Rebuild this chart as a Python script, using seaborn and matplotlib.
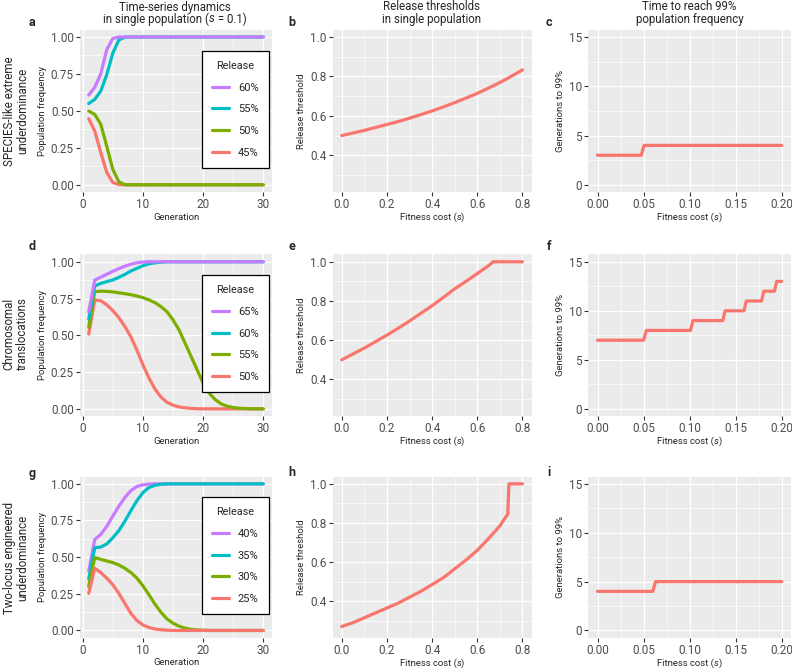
import matplotlib
matplotlib.use('Agg')
import matplotlib.pyplot as plt
import seaborn as sns
import numpy as np
import pandas as pd
from matplotlib.ticker import AutoMinorLocator, FormatStrFormatter

# ---- data ----
generations = list(range(1, 31))

# a: SPECIES-like extreme underdominance
a_releases = ['60%', '55%', '50%', '45%']
a_60 = [0.607, 0.66, 0.75, 0.915, 0.99] + [1.0] * 25
a_55 = [0.55, 0.578, 0.634, 0.746, 0.89, 0.98, 0.999] + [1.0] * 23
a_50 = [0.499, 0.476, 0.41, 0.26, 0.105, 0.02, 0.001] + [0.0] * 23
a_45 = [0.447, 0.364, 0.218, 0.083, 0.016, 0.002] + [0.0] * 24

# d: chromosomal translocations
d_releases = ['65%', '60%', '55%', '50%']
d_65 = [0.66, 0.875, 0.895, 0.915, 0.935, 0.953, 0.97, 0.983, 0.993, 0.998] + [1.0] * 20
d_60 = [0.61, 0.835, 0.853, 0.865, 0.876, 0.894, 0.914, 0.937, 0.955, 0.973,
        0.986, 0.993, 0.997] + [1.0] * 17
d_55 = [0.555, 0.797, 0.80, 0.799, 0.795, 0.789, 0.783, 0.776, 0.767, 0.756,
        0.741, 0.722, 0.695, 0.66, 0.605, 0.537, 0.447, 0.357, 0.266, 0.176,
        0.108, 0.063, 0.034, 0.018, 0.009, 0.004, 0.002] + [0.0] * 3
d_50 = [0.508, 0.74, 0.735, 0.707, 0.668, 0.62, 0.56, 0.49, 0.40, 0.30,
        0.21, 0.135, 0.08, 0.045, 0.025, 0.013, 0.007, 0.003, 0.001] + [0.0] * 11

# g: two-locus engineered underdominance
g_releases = ['40%', '35%', '30%', '25%']
g_40 = [0.406, 0.62, 0.655, 0.71, 0.78, 0.847, 0.907, 0.953, 0.982, 0.993, 0.998] + [1.0] * 19
g_35 = [0.35, 0.564, 0.569, 0.59, 0.632, 0.68, 0.745, 0.817, 0.885, 0.94,
        0.975, 0.99, 0.997] + [1.0] * 17
g_30 = [0.30, 0.497, 0.485, 0.474, 0.463, 0.447, 0.424, 0.395, 0.357, 0.305,
        0.244, 0.18, 0.124, 0.079, 0.05, 0.029, 0.016, 0.008, 0.004, 0.002] + [0.0] * 10
g_25 = [0.253, 0.424, 0.395, 0.357, 0.312, 0.253, 0.185, 0.117, 0.068, 0.038,
        0.02, 0.01, 0.005, 0.002] + [0.0] * 16

# release thresholds vs fitness cost
b_s = [0.0, 0.05, 0.1, 0.15, 0.2, 0.25, 0.3, 0.35, 0.4, 0.45, 0.5, 0.55, 0.6, 0.65, 0.7, 0.75, 0.8]
b_thr = [0.500, 0.513, 0.526, 0.541, 0.556, 0.571, 0.588, 0.606, 0.625, 0.645,
         0.667, 0.690, 0.714, 0.741, 0.769, 0.800, 0.833]
e_s = [0.0, 0.05, 0.1, 0.15, 0.2, 0.25, 0.3, 0.35, 0.4, 0.45, 0.5, 0.55, 0.6, 0.65,
       0.67, 0.7, 0.75, 0.8]
e_thr = [0.50, 0.53, 0.56, 0.593, 0.626, 0.661, 0.698, 0.737, 0.776, 0.818, 0.862,
         0.90, 0.94, 0.98, 1.0, 1.0, 1.0, 1.0]
h_s = [0.0, 0.05, 0.1, 0.15, 0.2, 0.25, 0.3, 0.35, 0.4, 0.45, 0.5, 0.55, 0.6, 0.65,
       0.7, 0.72, 0.735, 0.74, 0.75, 0.8]
h_thr = [0.27, 0.29, 0.315, 0.34, 0.365, 0.39, 0.42, 0.45, 0.485, 0.52, 0.565,
         0.61, 0.66, 0.72, 0.785, 0.82, 0.845, 1.0, 1.0, 1.0]

# generations to 99 %
c_s = [0.0, 0.0475, 0.0505, 0.2]
c_gen = [3, 3, 4, 4]
f_s = [0.0, 0.05, 0.053, 0.101, 0.1035, 0.136, 0.1385, 0.159, 0.1615, 0.178,
       0.1805, 0.192, 0.1945, 0.2]
f_gen = [7, 7, 8, 8, 9, 9, 10, 10, 11, 11, 12, 12, 13, 13]
i_s = [0.0, 0.06, 0.063, 0.2]
i_gen = [4, 4, 5, 5]

col_titles = [('Time-series dynamics', ('in single population (', 's', ' = 0.1)')),
              ('Release thresholds', ('in single population',)),
              ('Time to reach 99%', ('population frequency',))]
row_titles = ['SPECIES-like extreme\nunderdominance',
              'Chromosomal\ntranslocations',
              'Two-locus engineered\nunderdominance']
cost_label = ('Fitness cost (', 's', ')')

hue_colors = ['#C77CFF', '#00BFC4', '#7CAE00', '#F8766D']
red = '#F8766D'

# ---- style ----
sns.set_theme(style='darkgrid', rc={'axes.facecolor': '#EBEBEB', 'grid.color': 'white'})
plt.rcParams['font.family'] = ['Roboto', 'DejaVu Sans']

fig = plt.figure(figsize=(7.92, 6.7), dpi=100)
W, H = 792, 670
col_px = [(80, 272), (332.7, 531.5), (588.3, 791)]
row_px = [(29.6, 192.2), (254.4, 416.2), (476.5, 637.8)]
renderer = fig.canvas.get_renderer()


def mixed_text(cx, cy, parts, **kw):
    # pieces alternate upright / italic, centred as one line at (cx, cy) px
    texts = [fig.text(0, 1 - cy / H, p, va='center', ha='left',
                      fontstyle='italic' if k % 2 else 'normal', **kw)
             for k, p in enumerate(parts)]
    widths = [t.get_window_extent(renderer).width for t in texts]
    x = cx - sum(widths) / 2
    for t, w in zip(texts, widths):
        t.set_x(x / W)
        x += w


def make_ax(r, c):
    x0, x1 = col_px[c]
    y0, y1 = row_px[r]
    return fig.add_axes([x0 / W, 1 - y1 / H, (x1 - x0) / W, (y1 - y0) / H])


def style_ax(ax, xticks, yticks, xfmt, yfmt, xlabel, ylabel):
    ax.set_xticks(xticks)
    ax.set_yticks(yticks)
    ax.xaxis.set_major_formatter(FormatStrFormatter(xfmt))
    ax.yaxis.set_major_formatter(FormatStrFormatter(yfmt))
    ax.xaxis.set_minor_locator(AutoMinorLocator(2))
    ax.yaxis.set_minor_locator(AutoMinorLocator(2))
    ax.grid(which='major', color='white', linewidth=0.9)
    ax.grid(which='minor', color='white', linewidth=0.45)
    ax.tick_params(which='major', bottom=True, left=True, length=3, width=0.8,
                   color='#333333', labelcolor='#4D4D4D', labelsize=8.5, pad=1.5)
    ax.tick_params(which='minor', length=0)
    for sp in ax.spines.values():
        sp.set_visible(False)
    ax.set_xlabel(xlabel, fontsize=6.8, labelpad=1.0)
    ax.set_ylabel(ylabel, fontsize=6.8, labelpad=3)


def time_panel(ax, releases, series, draw_order):
    df = pd.DataFrame({
        'Generation': generations * len(releases),
        'freq': sum(series, []),
        'Release': [r for r in releases for _ in generations],
    })
    pal = dict(zip(releases, hue_colors))
    order = releases if draw_order == 'desc' else releases[::-1]
    sns.lineplot(data=df, x='Generation', y='freq', hue='Release', hue_order=order,
                 palette=pal, linewidth=2.3, estimator=None, ax=ax)
    leg = ax.get_legend()
    handles = list(leg.legend_handles)
    labels = [t.get_text() for t in leg.get_texts()]
    if draw_order != 'desc':
        handles, labels = handles[::-1], labels[::-1]
    for h in handles:
        h.set_linewidth(2.3)
    leg = ax.legend(handles, labels, title='Release', loc='center right',
                    bbox_to_anchor=(0.982, 0.51), fontsize=8, title_fontsize=7.8,
                    frameon=True, fancybox=False, framealpha=1, facecolor='white',
                    edgecolor='black', labelspacing=1.05, handlelength=1.6,
                    handletextpad=0.75, borderpad=0.9, borderaxespad=0)
    leg.get_frame().set_linewidth(0.9)
    style_ax(ax, [0, 10, 20, 30], [0, 0.25, 0.5, 0.75, 1.0], '%d', '%.2f',
             'Generation', 'Population frequency')


def thr_panel(ax, s, thr):
    sns.lineplot(x=s, y=thr, color=red, linewidth=2.3, estimator=None, ax=ax)
    ax.set_ylim(0.2125, 1.0375)
    style_ax(ax, [0, 0.2, 0.4, 0.6, 0.8], [0.4, 0.6, 0.8, 1.0], '%.1f', '%.1f',
             '', 'Release threshold')


def gen_panel(ax, s, gens):
    sns.lineplot(x=s, y=gens, color=red, linewidth=2.3, estimator=None, ax=ax)
    ax.set_ylim(-0.75, 15.75)
    style_ax(ax, [0, 0.05, 0.1, 0.15, 0.2], [0, 5, 10, 15], '%.2f', '%d',
             '', 'Generations to 99%')


time_panel(make_ax(0, 0), a_releases, [a_60, a_55, a_50, a_45], 'asc')
thr_panel(make_ax(0, 1), b_s, b_thr)
gen_panel(make_ax(0, 2), c_s, c_gen)
time_panel(make_ax(1, 0), d_releases, [d_65, d_60, d_55, d_50], 'asc')
thr_panel(make_ax(1, 1), e_s, e_thr)
gen_panel(make_ax(1, 2), f_s, f_gen)
time_panel(make_ax(2, 0), g_releases, [g_40, g_35, g_30, g_25], 'desc')
thr_panel(make_ax(2, 1), h_s, h_thr)
gen_panel(make_ax(2, 2), i_s, i_gen)

# "Fitness cost (s)" x labels for columns 2 and 3
for r in range(3):
    for c in (1, 2):
        mixed_text((col_px[c][0] + col_px[c][1]) / 2, row_px[r][1] + 25.5,
                   cost_label, fontsize=6.8)

# column headers
for cx, (l1, l2) in zip([175, 432, 689.5], col_titles):
    fig.text(cx / W, 1 - 7 / H, l1, ha='center', va='center', fontsize=8.3)
    mixed_text(cx, 19, l2, fontsize=8.3)

# row headers
for cy, t in zip([111, 334, 558], row_titles):
    fig.text(16 / W, 1 - cy / H, t, ha='center', va='center', rotation=90,
             fontsize=8.3, linespacing=1.05)

# panel letters
letters = 'abcdefghi'
letter_x = [32, 292, 549]
letter_y = [23, 247, 473]
for k, ch in enumerate(letters):
    fig.text(letter_x[k % 3] / W, 1 - letter_y[k // 3] / H, ch, ha='center',
             va='center', fontsize=9, fontweight='bold')

fig.savefig('out.png', dpi=100)
